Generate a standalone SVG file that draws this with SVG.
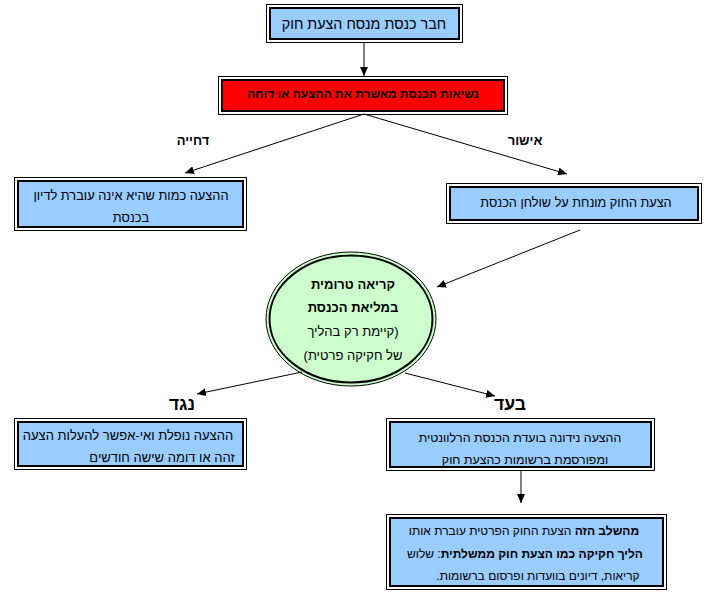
<svg xmlns="http://www.w3.org/2000/svg" width="710" height="599" viewBox="0 0 710 599">
<style>
text{font-family:"Liberation Sans","DejaVu Sans",sans-serif;fill:#000;direction:rtl;text-anchor:middle}
.t{font-size:13px}
.s{font-size:12px}
.m{font-size:12.4px}
.b{font-weight:bold}
.o{fill:#fff;stroke:#000;stroke-width:1}
.i{fill:#99CCFF;stroke:#000;stroke-width:2}
.r{fill:#FF0000;stroke:#000;stroke-width:2}
.c line{stroke:#000;stroke-width:1}
.lab{font-size:13px;font-weight:bold}
.big{font-size:17.5px;font-weight:bold}
</style>
<defs>
<marker id="ah" markerWidth="9" markerHeight="8" refX="9" refY="4" orient="auto" markerUnits="userSpaceOnUse">
<path d="M0,0 L9,4 L0,8 z" fill="#000"/>
</marker>
</defs>
<rect width="710" height="599" fill="#fff"/>
<g id="n1">
<rect class="o" x="266.5" y="4.5" width="196" height="38"/>
<rect class="i" x="270" y="8" width="189" height="31"/>
<text x="364" y="29" font-size="14.3">חבר כנסת מנסח הצעת חוק</text>
</g>
<g id="n2">
<rect class="o" x="218.5" y="76.5" width="289" height="38"/>
<rect class="r" x="222" y="80" width="282" height="31"/>
<text class="b" x="363" y="98" font-size="12">נשיאות הכנסת מאשרת את ההצעה או דוחה</text>
</g>
<g id="n3">
<rect class="o" x="14.5" y="177.5" width="232" height="53"/>
<rect class="i" x="18" y="181" width="225" height="46"/>
<text x="131" y="200" font-size="12.8">ההצעה כמות שהיא אינה עוברת לדיון</text>
<text x="131" y="222" font-size="12.8">בכנסת</text>
</g>
<g id="n4">
<rect class="o" x="446.5" y="183.5" width="255" height="40"/>
<rect class="i" x="450" y="187" width="248" height="33"/>
<text x="576" y="207" font-size="12.7">הצעת החוק מונחת על שולחן הכנסת</text>
</g>
<g id="n5">
<ellipse cx="351" cy="319" rx="85" ry="67" fill="#CCFFCC" stroke="#000" stroke-width="1"/>
<ellipse cx="351" cy="319" rx="81.5" ry="63.5" fill="none" stroke="#000" stroke-width="2"/>
<text class="t b" x="353" y="289">קריאה טרומית</text>
<text class="t b" x="353" y="312">במליאת הכנסת</text>
<text class="t" x="353" y="336">(קיימת  רק בהליך</text>
<text class="t" x="353" y="360">של חקיקה פרטית)</text>
</g>
<g id="n6">
<rect class="o" x="14.5" y="418.5" width="232" height="51"/>
<rect class="i" x="18" y="422" width="225" height="44"/>
<text class="t" x="128" y="440">ההצעה נופלת ואי-אפשר להעלות הצעה</text>
<text class="t" x="162" y="462">זהה או דומה שישה חודשים</text>
</g>
<g id="n7">
<rect class="o" x="386.5" y="418.5" width="268" height="52"/>
<rect class="i" x="390" y="422" width="261" height="45"/>
<text class="m" x="520" y="442">ההצעה נידונה בועדת הכנסת הרלוונטית</text>
<text class="m" x="525" y="464">ומפורסמת ברשומות כהצעת חוק</text>
</g>
<g id="n8">
<rect class="o" x="386.5" y="514.5" width="280" height="75"/>
<rect class="i" x="390" y="518" width="273" height="68"/>
<text class="s" x="524" y="535"><tspan class="b">מהשלב הזה</tspan> הצעת החוק הפרטית עוברת אותו</text>
<text class="s" x="525" y="558"><tspan class="b">הליך חקיקה כמו הצעת חוק ממשלתית</tspan>: שלוש</text>
<text class="s" x="538" y="580">קריאות, דיונים בוועדות ופרסום ברשומות.</text>
</g>
<g id="labels">
<text class="lab" x="193" y="145">דחייה</text>
<text class="lab" x="525" y="145">אישור</text>
<text class="big" x="182" y="410">נגד</text>
<text class="big" x="510" y="410">בעד</text>
</g>
<g class="c" id="connectors">
<line x1="364" y1="42" x2="364" y2="76" marker-end="url(#ah)"/>
<line x1="364" y1="114" x2="567" y2="174" marker-end="url(#ah)"/>
<line x1="364" y1="114" x2="185" y2="173" marker-end="url(#ah)"/>
<line x1="580" y1="230" x2="437" y2="287" marker-end="url(#ah)"/>
<line x1="302" y1="372" x2="197" y2="394" marker-end="url(#ah)"/>
<line x1="405" y1="373" x2="495" y2="396" marker-end="url(#ah)"/>
<line x1="521" y1="470" x2="521" y2="503" marker-end="url(#ah)"/>
</g>
</svg>
